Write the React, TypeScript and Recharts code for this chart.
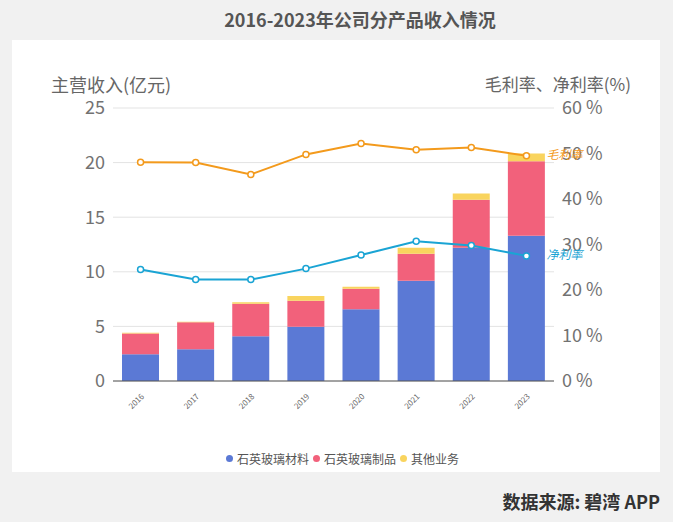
import React from 'react'
import {
  ComposedChart,
  Bar,
  Line,
  XAxis,
  YAxis,
  CartesianGrid,
  LabelList,
} from 'recharts'

const years = ['2016', '2017', '2018', '2019', '2020', '2021', '2022', '2023']
const materials = [2.44, 2.9, 4.09, 4.97, 6.56, 9.18, 12.2, 13.3]
const products = [1.92, 2.47, 2.98, 2.38, 1.89, 2.47, 4.39, 6.83]
const others = [0.05, 0.05, 0.15, 0.43, 0.18, 0.55, 0.58, 0.7]
const grossMargin = [48.1, 48.0, 45.4, 49.8, 52.2, 50.8, 51.3, 49.5]
const netMargin = [24.5, 22.3, 22.3, 24.7, 27.7, 30.7, 29.8, 27.5]
const leftTicks = [0, 5, 10, 15, 20, 25]
const rightTicks = [0, 10, 20, 30, 40, 50, 60]

const data = years.map((year, i) => ({
  year,
  materials: materials[i],
  products: products[i],
  others: others[i],
  gross: grossMargin[i],
  net: netMargin[i],
}))

const FONT = '"Noto Sans CJK SC", "Noto Sans", sans-serif'
const BLUE = '#5B79D5'
const RED = '#F2617B'
const YELLOW = '#F9D45E'
const ORANGE = '#F39A1C'
const CYAN = '#1AA4D4'

function YearTick({ x, y, payload }: any) {
  return (
    <text
      x={x + 4}
      y={y + 8}
      transform={`rotate(-45 ${x + 4} ${y + 8})`}
      textAnchor="end"
      fontSize={8}
      fill="#666"
      fontFamily={FONT}
    >
      {payload.value}
    </text>
  )
}

// label only the last point, to the right of it
function endLabel(text: string, color: string) {
  return (props: any) => {
    if (props.index !== years.length - 1) return null
    return (
      <text
        x={props.x + 20}
        y={props.y}
        dominantBaseline="middle"
        fontSize={12}
        fontStyle="italic"
        fill={color}
        fontFamily={FONT}
      >
        {text}
      </text>
    )
  }
}

const legendItems = [
  { name: '石英玻璃材料', color: BLUE },
  { name: '石英玻璃制品', color: RED },
  { name: '其他业务', color: YELLOW },
]

export default function App() {
  return (
    <div
      style={{
        position: 'absolute',
        left: 0,
        top: 0,
        width: 673,
        height: 522,
        background: '#f1f1f1',
        fontFamily: FONT,
        overflow: 'hidden',
      }}
    >
      <div
        style={{
          position: 'absolute',
          left: 0,
          width: 720,
          top: 8,
          lineHeight: '22px',
          textAlign: 'center',
          fontSize: 18,
          fontWeight: 700,
          color: '#555',
        }}
      >
        2016-2023年公司分产品收入情况
      </div>
      <div
        style={{
          position: 'absolute',
          left: 12,
          top: 40,
          width: 648,
          height: 432,
          background: '#fff',
        }}
      />
      <div style={{ position: 'absolute', left: 51, top: 74, lineHeight: '20px', fontSize: 18, color: '#666' }}>
        主营收入(亿元)
      </div>
      <div style={{ position: 'absolute', right: 42, top: 74, lineHeight: '20px', fontSize: 17, color: '#666' }}>
        毛利率、净利率(%)
      </div>
      <div style={{ position: 'absolute', left: 0, top: 0 }}>
        <ComposedChart
          width={673}
          height={522}
          data={data}
          margin={{ top: 108, right: 59, left: 53, bottom: 111 }}
          barSize={37}
        >
          <CartesianGrid yAxisId="left" vertical={false} stroke="#e3e3e3" />
          <XAxis
            dataKey="year"
            height={30}
            tickLine={false}
            axisLine={{ stroke: '#555' }}
            tick={<YearTick />}
            interval={0}
          />
          <YAxis
            yAxisId="left"
            width={60}
            domain={[0, 25]}
            ticks={leftTicks}
            tickLine={false}
            axisLine={false}
            tick={{ fontSize: 18, fill: '#727272', fontFamily: FONT }}
          />
          <YAxis
            yAxisId="right"
            orientation="right"
            width={60}
            domain={[0, 60]}
            ticks={rightTicks}
            tickLine={false}
            axisLine={false}
            tickFormatter={(v: number) => `${v} %`}
            tick={{ fontSize: 18, fill: '#727272', fontFamily: FONT, textAnchor: 'start' }}
          />
          <Bar yAxisId="left" dataKey="materials" stackId="a" fill={BLUE} isAnimationActive={false} />
          <Bar yAxisId="left" dataKey="products" stackId="a" fill={RED} isAnimationActive={false} />
          <Bar yAxisId="left" dataKey="others" stackId="a" fill={YELLOW} isAnimationActive={false} />
          <Line
            yAxisId="right"
            dataKey="gross"
            stroke={ORANGE}
            strokeWidth={2}
            dot={{ r: 3, fill: '#fff', stroke: ORANGE, strokeWidth: 1.5 }}
            isAnimationActive={false}
          >
            <LabelList dataKey="gross" content={endLabel('毛利率', ORANGE)} />
          </Line>
          <Line
            yAxisId="right"
            dataKey="net"
            stroke={CYAN}
            strokeWidth={2}
            dot={{ r: 3, fill: '#fff', stroke: CYAN, strokeWidth: 1.5 }}
            isAnimationActive={false}
          >
            <LabelList dataKey="net" content={endLabel('净利率', CYAN)} />
          </Line>
        </ComposedChart>
      </div>
      <div
        style={{
          position: 'absolute',
          left: 226,
          top: 450,
          display: 'flex',
          alignItems: 'center',
          fontSize: 12,
          color: '#555',
          whiteSpace: 'nowrap',
        }}
      >
        {legendItems.map((item) => (
          <span key={item.name} style={{ display: 'flex', alignItems: 'center', marginRight: 4 }}>
            <span
              style={{
                display: 'inline-block',
                width: 7,
                height: 7,
                borderRadius: 4,
                background: item.color,
                marginRight: 4,
              }}
            />
            {item.name}
          </span>
        ))}
      </div>
      <div
        style={{
          position: 'absolute',
          right: 13,
          top: 488,
          fontSize: 18,
          fontWeight: 700,
          color: '#333',
        }}
      >
        数据来源: 碧湾 APP
      </div>
    </div>
  )
}
